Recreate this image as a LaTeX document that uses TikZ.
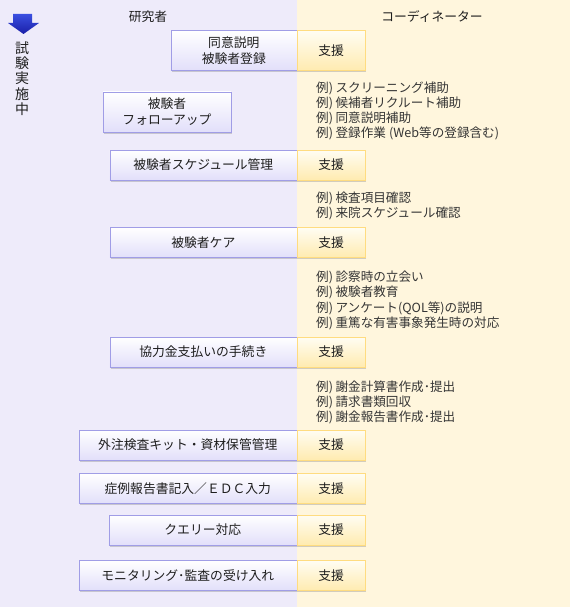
\documentclass[tikz,border=0pt]{standalone}
\usepackage{fontspec}
\setmainfont{Noto Sans CJK JP}
\usepackage{xcolor}
\usepackage{tikz}
\usetikzlibrary{positioning, shadows}
\definecolor{leftbg}{HTML}{EEEBFA}
\definecolor{rightbg}{HTML}{FFF6DD}
\definecolor{taskline}{HTML}{A09DE6}
\definecolor{taskfill}{HTML}{E2DFFA}
\definecolor{helpline}{HTML}{FFDC80}
\definecolor{helptop}{HTML}{FFFDF3}
\definecolor{helpbottom}{HTML}{FFEBB0}
\definecolor{arrowtop}{HTML}{3A4FE0}
\definecolor{arrowbottom}{HTML}{1A1FA8}
\definecolor{inktext}{HTML}{1E1E1E}
\newcommand{\exmark}{例)\kern0.2em}

\begin{document}
\begin{tikzpicture}[
    x=1pt, y=-1pt,
    task/.style={rectangle, draw=taskline, top color=white, bottom color=taskfill, minimum height=30pt, inner sep=2pt, align=center, text=inktext, font=\fontsize{12.8}{16}\selectfont, drop shadow={shadow xshift=1.2pt, shadow yshift=-1.8pt, opacity=0.35}},
    help/.style={task, draw=helpline, top color=helptop, bottom color=helpbottom, minimum width=68pt},
    note/.style={anchor=west, align=left, inner sep=0pt, text=inktext!90, font=\fontsize{12.6}{15.2}\selectfont},
    head/.style={text=inktext, font=\fontsize{12.8}{16}\selectfont},
]
    \useasboundingbox (0,0) rectangle (570,607);
    \fill[leftbg] (0,0) rectangle (297,607);
    \fill[rightbg] (297,0) rectangle (570,607);

    \shade[top color=arrowtop, bottom color=arrowbottom] (13,14) -- (32,14) -- (32,23) -- (39,23) -- (23.5,34) -- (8,23) -- (13,23) -- cycle;
    \node[head, align=center, font=\fontsize{14}{15.3}\selectfont] (phase) at (22,78.5) {試\\験\\実\\施\\中};
    \node[head] (researcher) at (148,17) {研究者};
    \node[head] (coordinator) at (432,17) {コーディネーター};

    \node[task, minimum width=126pt, minimum height=40pt, anchor=east] (consent) at (297,50.5) {同意説明\\被験者登録};
    \node[help, minimum height=40pt, right=0pt of consent] (consent-help) {支援};
    \node[task, minimum width=128pt, minimum height=40pt] (follow) at (167,112) {被験者\\フォローアップ};
    \node[note] (follow-ex) at (316,111) {\exmark スクリーニング補助\\\exmark 候補者リクルート補助\\\exmark 同意説明補助\\\exmark 登録作業\kern0.25em(Web等の登録含む)};

    \node[task, minimum width=187pt, anchor=east] (sched) at (297,165) {被験者スケジュール管理};
    \node[help, right=0pt of sched] (sched-help) {支援};
    \node[note] (sched-ex) at (316,206) {\exmark 検査項目確認\\\exmark 来院スケジュール確認};

    \node[task, minimum width=187pt, anchor=east] (care) at (297,242.5) {被験者ケア};
    \node[help, right=0pt of care] (care-help) {支援};
    \node[note] (care-ex) at (316,300.5) {\exmark 診察時の立会い\\\exmark 被験者教育\\\exmark アンケート(QOL等)の説明\\\exmark 重篤な有害事象発生時の対応};

    \node[task, minimum width=187pt, anchor=east] (pay) at (297,352) {協力金支払いの手続き};
    \node[help, right=0pt of pay] (pay-help) {支援};
    \node[note] (pay-ex) at (316,402.5) {\exmark 謝金計算書作成･提出\\\exmark 請求書類回収\\\exmark 謝金報告書作成･提出};

    \node[task, minimum width=218pt, anchor=east] (kit) at (297,445) {外注検査キット・資材保管管理};
    \node[help, right=0pt of kit] (kit-help) {支援};

    \node[task, minimum width=218pt, anchor=east] (crf) at (297,488.5) {症例報告書記入／ＥＤＣ入力};
    \node[help, right=0pt of crf] (crf-help) {支援};

    \node[task, minimum width=188pt, anchor=east] (query) at (297,530) {クエリー対応};
    \node[help, right=0pt of query] (query-help) {支援};

    \node[task, minimum width=218pt, anchor=east] (audit) at (297,575.5) {モニタリング･監査の受け入れ};
    \node[help, right=0pt of audit] (audit-help) {支援};
\end{tikzpicture}
\end{document}
